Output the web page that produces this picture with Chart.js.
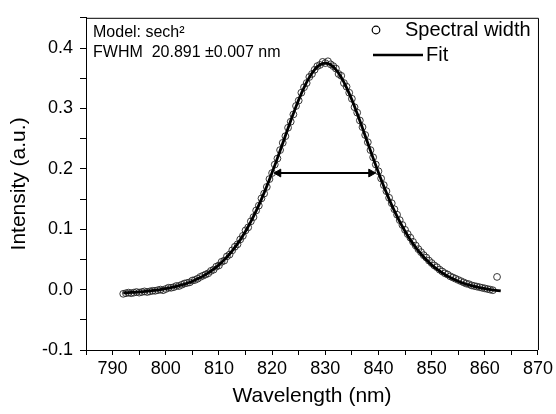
<!DOCTYPE html>
<html>
<head>
<meta charset="utf-8">
<script src="https://cdn.jsdelivr.net/npm/chart.js@4.4.1/dist/chart.umd.min.js"></script>
<style>
  html, body { margin: 0; padding: 0; background: #fff; }
  #wrap { width: 556px; height: 414px; }
</style>
</head>
<body>
<div id="wrap"><canvas id="spectrum"></canvas></div>
<script>
// measured spectrum (open circles)
const wavelength = [
  792, 792.5, 793, 793.5, 794, 794.5, 795, 795.5, 796, 796.5,
  797, 797.5, 798, 798.5, 799, 799.5, 800, 800.5, 801, 801.5,
  802, 802.5, 803, 803.5, 804, 804.5, 805, 805.5, 806, 806.5,
  807, 807.5, 808, 808.5, 809, 809.5, 810, 810.5, 811, 811.5,
  812, 812.5, 813, 813.5, 814, 814.5, 815, 815.5, 816, 816.5,
  817, 817.5, 818, 818.5, 819, 819.5, 820, 820.5, 821, 821.5,
  822, 822.5, 823, 823.5, 824, 824.5, 825, 825.5, 826, 826.5,
  827, 827.5, 828, 828.5, 829, 829.5, 830, 830.5, 831, 831.5,
  832, 832.5, 833, 833.5, 834, 834.5, 835, 835.5, 836, 836.5,
  837, 837.5, 838, 838.5, 839, 839.5, 840, 840.5, 841, 841.5,
  842, 842.5, 843, 843.5, 844, 844.5, 845, 845.5, 846, 846.5,
  847, 847.5, 848, 848.5, 849, 849.5, 850, 850.5, 851, 851.5,
  852, 852.5, 853, 853.5, 854, 854.5, 855, 855.5, 856, 856.5,
  857, 857.5, 858, 858.5, 859, 859.5, 860, 860.5, 861, 861.5,
  862.3
];
const intensity = [
  -0.007, -0.006, -0.005, -0.006, -0.005, -0.004, -0.005, -0.004, -0.003, -0.004,
  -0.003, -0.002, -0.002, -0.001, 0.000, -0.001, 0.001, 0.003, 0.003, 0.004,
  0.006, 0.006, 0.008, 0.010, 0.011, 0.012, 0.015, 0.016, 0.018, 0.021,
  0.023, 0.025, 0.027, 0.031, 0.033, 0.038, 0.040, 0.046, 0.048, 0.055,
  0.058, 0.065, 0.071, 0.075, 0.083, 0.089, 0.098, 0.103, 0.113, 0.120,
  0.131, 0.139, 0.151, 0.159, 0.170, 0.183, 0.193, 0.207, 0.217, 0.231,
  0.243, 0.254, 0.268, 0.278, 0.290, 0.304, 0.313, 0.326, 0.335, 0.342,
  0.352, 0.357, 0.364, 0.370, 0.372, 0.377, 0.375, 0.378, 0.373, 0.370,
  0.366, 0.357, 0.354, 0.342, 0.336, 0.326, 0.316, 0.302, 0.293, 0.280,
  0.269, 0.256, 0.244, 0.231, 0.219, 0.207, 0.196, 0.184, 0.173, 0.163,
  0.152, 0.143, 0.133, 0.124, 0.115, 0.107, 0.099, 0.092, 0.086, 0.079,
  0.073, 0.067, 0.062, 0.057, 0.053, 0.048, 0.044, 0.040, 0.037, 0.033,
  0.030, 0.027, 0.025, 0.022, 0.020, 0.018, 0.016, 0.014, 0.012, 0.010,
  0.009, 0.007, 0.006, 0.005, 0.004, 0.003, 0.002, 0.001, 0.000, -0.001,
  0.021
];

// sech^2 fit (solid line)
const fitWavelength = [
  792, 793, 794, 795, 796, 797, 798, 799, 800, 801,
  802, 803, 804, 805, 806, 807, 808, 809, 810, 811,
  812, 813, 814, 815, 816, 817, 818, 819, 820, 821,
  822, 823, 824, 825, 826, 827, 828, 829, 830, 831,
  832, 833, 834, 835, 836, 837, 838, 839, 840, 841,
  842, 843, 844, 845, 846, 847, 848, 849, 850, 851,
  852, 853, 854, 855, 856, 857, 858, 859, 860, 861,
  862, 863
];
const fitIntensity = [
  -0.0055, -0.0050, -0.0045, -0.0039, -0.0031, -0.0022, -0.0011, 0.0001, 0.0016, 0.0033,
  0.0053, 0.0077, 0.0106, 0.0139, 0.0178, 0.0223, 0.0276, 0.0338, 0.0410, 0.0493,
  0.0589, 0.0698, 0.0823, 0.0966, 0.1125, 0.1302, 0.1498, 0.1710, 0.1938, 0.2177,
  0.2424, 0.2673, 0.2915, 0.3142, 0.3345, 0.3514, 0.3643, 0.3723, 0.3750, 0.3723,
  0.3643, 0.3514, 0.3345, 0.3142, 0.2915, 0.2673, 0.2424, 0.2177, 0.1938, 0.1710,
  0.1498, 0.1302, 0.1125, 0.0966, 0.0823, 0.0698, 0.0589, 0.0493, 0.0410, 0.0338,
  0.0276, 0.0223, 0.0178, 0.0139, 0.0106, 0.0077, 0.0053, 0.0033, 0.0016, 0.0001,
  -0.0011, -0.0022
];

// FWHM double arrow
const arrowWavelength = [821.2, 838.6];
const arrowIntensity = [0.193, 0.193];

const xMin = 785, xMax = 870, xStep = 5;
const yMin = -0.1, yMax = 0.45, yStep = 0.05;

const fontFamily = "'Liberation Sans', Arial, Helvetica, sans-serif";

const toPoints = (xs, ys) => xs.map((x, i) => ({ x: x, y: ys[i] }));

const framePlugin = {
  id: "frame",
  afterDraw(chart) {
    const { ctx, chartArea: a } = chart;
    ctx.save();
    ctx.strokeStyle = "#000";
    ctx.lineWidth = 1;
    ctx.beginPath();
    ctx.moveTo(a.left, a.top + 0.5);
    ctx.lineTo(a.right + 0.5, a.top + 0.5);
    ctx.lineTo(a.right + 0.5, a.bottom);
    ctx.stroke();

    // notes, top left
    ctx.fillStyle = "#000";
    ctx.textBaseline = "middle";
    ctx.textAlign = "left";
    ctx.font = "16px " + fontFamily;
    ctx.fillText("Model: sech²", a.left + 7, 33);
    ctx.fillText("FWHM  20.891 ±0.007 nm", a.left + 7, 53);

    // legend, top right
    ctx.font = "20px " + fontFamily;
    ctx.lineWidth = 1.2;
    ctx.beginPath();
    ctx.arc(376, 30, 3.8, 0, Math.PI * 2);
    ctx.stroke();
    ctx.fillText("Spectral width", 405, 30);
    ctx.lineWidth = 2.6;
    ctx.beginPath();
    ctx.moveTo(373, 55);
    ctx.lineTo(423, 55);
    ctx.stroke();
    ctx.fillText("Fit", 426, 55);
    ctx.restore();
  },
};

const isMajor = (v, step) => Math.abs(Math.round(v / step) - v / step) < 1e-6;

const ctx = document.getElementById("spectrum");
new Chart(ctx, {
  type: "scatter",
  data: {
    datasets: [
      {
        label: "Fit",
        type: "line",
        data: toPoints(fitWavelength, fitIntensity),
        borderColor: "#000",
        borderWidth: 2.8,
        pointRadius: 0,
        tension: 0.4,
        fill: false,
      },
      {
        label: "FWHM",
        type: "line",
        data: toPoints(arrowWavelength, arrowIntensity),
        borderColor: "#000",
        backgroundColor: "#000",
        borderWidth: 2,
        pointStyle: "triangle",
        pointRotation: [-90, 90],
        pointRadius: 4.5,
        pointBorderWidth: 1,
        fill: false,
      },
      {
        label: "Spectral width",
        data: toPoints(wavelength, intensity),
        pointStyle: "circle",
        pointRadius: 3.4,
        pointBorderWidth: 0.9,
        borderColor: "#222",
        backgroundColor: "rgba(255,255,255,0)",
      },
    ],
  },
  options: {
    responsive: true,
    maintainAspectRatio: false,
    animation: false,
    layout: { padding: { top: 14, right: 18, left: 0, bottom: 0 } },
    plugins: {
      legend: { display: false },
      tooltip: { enabled: false },
    },
    scales: {
      x: {
        type: "linear",
        min: xMin,
        max: xMax,
        afterFit: (scale) => { scale.height = 64; },
        border: { color: "#000", width: 1 },
        grid: { drawOnChartArea: false, drawTicks: true, tickLength: 5, tickColor: "#000" },
        ticks: {
          stepSize: xStep,
          autoSkip: false,
          maxRotation: 0,
          padding: 3,
          color: "#000",
          font: { family: fontFamily, size: 18 },
          callback: (v) => (isMajor(v, 10) ? String(Math.round(v)) : ""),
        },
        title: {
          display: true,
          text: "Wavelength (nm)",
          color: "#000",
          font: { family: fontFamily, size: 21 },
          padding: { top: 0, bottom: 5 },
        },
      },
      y: {
        type: "linear",
        min: yMin,
        max: yMax,
        afterFit: (scale) => { scale.width = 86; },
        border: { color: "#000", width: 1 },
        grid: { drawOnChartArea: false, drawTicks: true, tickLength: 6, tickColor: "#000" },
        ticks: {
          stepSize: yStep,
          autoSkip: false,
          padding: 7,
          color: "#000",
          font: { family: fontFamily, size: 18 },
          callback: (v) => (isMajor(v, 0.1) ? v.toFixed(1) : ""),
        },
        title: {
          display: true,
          text: "Intensity (a.u.)",
          color: "#000",
          font: { family: fontFamily, size: 21 },
          padding: { top: 7, bottom: 0 },
        },
      },
    },
  },
  plugins: [framePlugin],
});
</script>
</body>
</html>
